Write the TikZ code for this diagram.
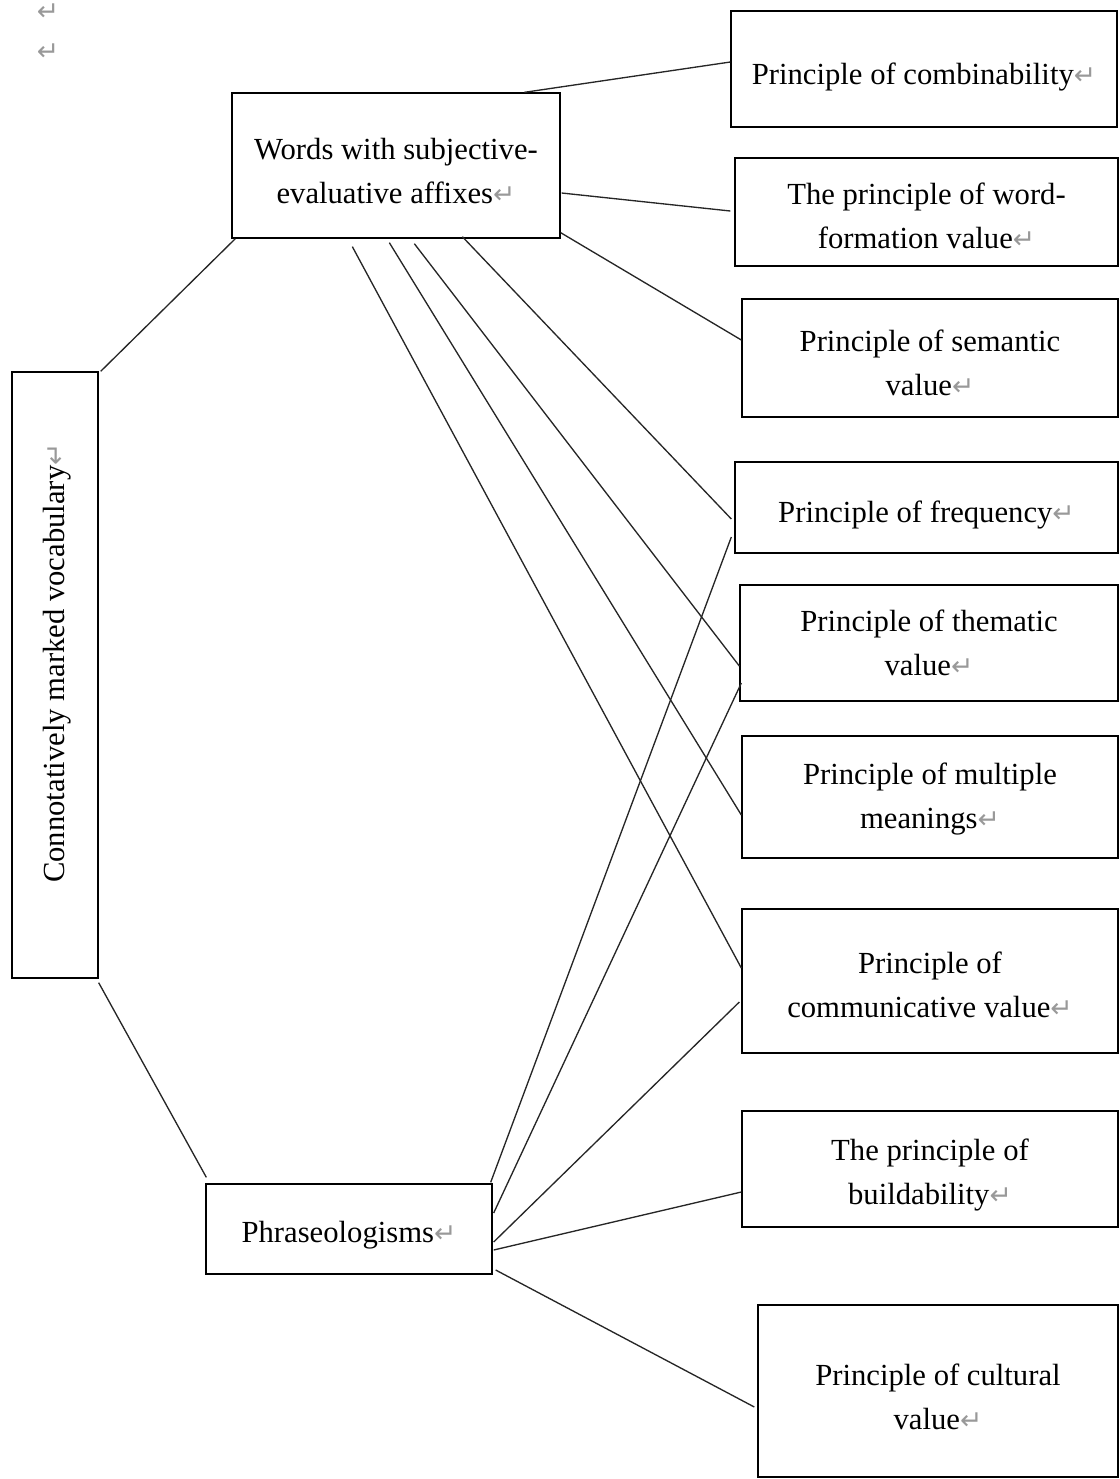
\documentclass[tikz,border=0pt]{standalone}
\usepackage{fontspec}
\setmainfont{Liberation Serif}
\newfontfamily\dejavu{DejaVu Sans}
\usetikzlibrary{calc}
\newcommand{\pmark}{{\dejavu\fontsize{20pt}{20pt}\selectfont\color{black!40}↵}}
\begin{document}
\begin{tikzpicture}[x=0.75pt,y=-0.75pt,
  box/.style={draw, line width=1pt, inner sep=0pt},
  txt/.style={inner sep=0pt, align=center, font=\fontsize{23pt}{33pt}\selectfont},
  link/.style={line width=1pt, draw=black!85}]
\useasboundingbox (0,0) rectangle (1120,1479);

% paragraph marks at top left
\node[inner sep=0pt] (m1) at (48,12) {\pmark};
\node[inner sep=0pt] (m2) at (48,52) {\pmark};

% boxes
\node[box, minimum width=246pt, minimum height=108.75pt] (words) at (396,165.5) {};
\node[box, minimum width=64.5pt, minimum height=454.5pt] (conn) at (55,675) {};
\node[box, minimum width=214.5pt, minimum height=67.5pt] (phr) at (349,1229) {};
\node[box, minimum width=289.5pt, minimum height=87pt] (comb) at (924,69) {};
\node[box, minimum width=287.25pt, minimum height=81pt] (wf) at (926.5,212) {};
\node[box, minimum width=282pt, minimum height=88.5pt] (sem) at (930,358) {};
\node[box, minimum width=287.25pt, minimum height=68.25pt] (freq) at (926.5,507.5) {};
\node[box, minimum width=283.5pt, minimum height=87pt] (them) at (929,643) {};
\node[box, minimum width=282pt, minimum height=91.5pt] (mult) at (930,797) {};
\node[box, minimum width=282pt, minimum height=108pt] (comm) at (930,981) {};
\node[box, minimum width=282pt, minimum height=87pt] (build) at (930,1169) {};
\node[box, minimum width=270pt, minimum height=129pt] (cult) at (938,1391) {};

% texts
\node[txt] (words-t) at ($(words.center)+(0,6)$) {Words with subjective-\\evaluative affixes\pmark};
\node[txt] (conn-t) at ($(conn.center)+(2,-12)$) {\rotatebox{90}{Connotatively marked vocabulary\pmark}};
\node[txt] (phr-t) at ($(phr.center)+(0,6)$) {Phraseologisms\pmark};
\node[txt] (comb-t) at ($(comb.center)+(0,8)$) {Principle of combinability\pmark};
\node[txt] (wf-t) at ($(wf.center)+(0,4)$) {The principle of word-\\formation value\pmark};
\node[txt] (sem-t) at ($(sem.center)+(0,5)$) {Principle of semantic\\value\pmark};
\node[txt] (freq-t) at ($(freq.center)+(0,8)$) {Principle of frequency\pmark};
\node[txt] (them-t) at ($(them.center)+(0,0)$) {Principle of thematic\\value\pmark};
\node[txt] (mult-t) at ($(mult.center)+(0,2)$) {Principle of multiple\\meanings\pmark};
\node[txt] (comm-t) at ($(comm.center)+(0,4)$) {Principle of\\communicative value\pmark};
\node[txt] (build-t) at ($(build.center)+(0,6)$) {The principle of\\buildability\pmark};
\node[txt] (cult-t) at ($(cult.center)+(0,6)$) {Principle of cultural\\value\pmark};

% connectors from the vocabulary box
\draw[link] ($(conn.north east)+(2,0)$) -- ($(words.south west)+(4,0)$);
\draw[link] ($(conn.south east)+(0,4)$) -- ($(phr.north west)+(1,-6)$);

% connectors from words box
\draw[link] ($(words.north west)+(293,0)$) -- ($(comb.west)+(0,-7)$);
\draw[link] ($(words.east)+(1,27.5)$) -- ($(wf.west)+(-4,-1)$);
\draw[link] ($(words.south east)+(0,-6)$) -- ($(sem.west)+(0,-18)$);
\draw[link] ($(words.south west)+(231,-2)$) -- ($(freq.west)+(-3,11.5)$);
\draw[link] ($(words.south west)+(183,5)$) -- ($(them.west)+(0,23)$);
\draw[link] ($(words.south west)+(158,4)$) -- ($(mult.west)+(0,18)$);
\draw[link] ($(words.south west)+(121,8)$) -- ($(comm.west)+(0,-13)$);

% connectors from phraseologisms
\draw[link] ($(phr.north east)+(-2,-1)$) -- ($(freq.west)+(-3,29.5)$);
\draw[link] ($(phr.east)+(1,-16)$) -- ($(them.west)+(2,40)$);
\draw[link] ($(phr.east)+(1,13)$) -- ($(comm.west)+(-2,21)$);
\draw[link] ($(phr.east)+(1,21)$) -- ($(build.west)+(0,23)$);
\draw[link] ($(phr.east)+(3,41)$) -- ($(cult.west)+(-3,16)$);
\end{tikzpicture}
\end{document}
